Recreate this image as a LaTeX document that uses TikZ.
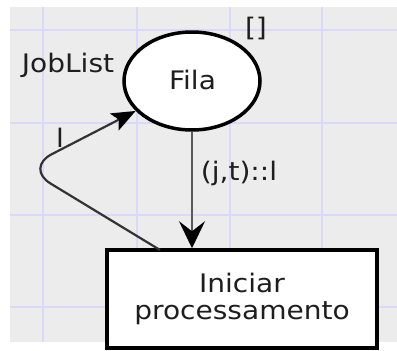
\documentclass[tikz,border=0pt]{standalone}
\usepackage{fontspec}
\setmainfont[FakeStretch=1.1]{DejaVu Sans}
\usetikzlibrary{arrows.meta,shapes.geometric}
\definecolor{bggray}{RGB}{236,236,236}
\definecolor{gridc}{RGB}{218,218,248}
\definecolor{txt}{RGB}{30,30,30}
\begin{document}
\begin{tikzpicture}[x=1pt,y=-1pt,
  lbl/.style={font=\fontsize{25.5}{30}\selectfont, text=txt, inner sep=0pt},
  place/.style={ellipse, draw=black, line width=3.5pt, fill=white, minimum width=136pt, minimum height=98pt, inner sep=0pt},
  trans/.style={rectangle, draw=black, line width=3.5pt, fill=white, minimum width=270pt, minimum height=98pt, inner sep=0pt, align=center},
  arc/.style={line width=2.5pt, draw=black!65},
  loop/.style={line width=2.2pt, draw=black!80}
]
\useasboundingbox (0,0) rectangle (397,351);
\fill[white] (0,0) rectangle (397,351);
\fill[bggray] (10,7) rectangle (397,342);
\foreach \gx in {43,137,230,322} \draw[gridc, line width=2pt] (\gx,7) -- (\gx,342);
\foreach \gy in {30,123,215,307} \draw[gridc, line width=2pt] (10,\gy) -- (397,\gy);

\node[place] (fila) at (192,81) {};
\node[lbl] (filatxt) at (192.5,80) {Fila};
\node[trans] (ini) at (242,299) {};
\node[lbl, align=center] (initxt) at (242,299) {Iniciar\\[-3pt]processamento};

\coordinate (lstart) at (160,250);
\coordinate (lc) at (25,168);

\draw[arc, -{Stealth[length=27pt,width=26pt,inset=10pt,black]}] (fila.south) -- (fila.south |- ini.north);
\draw[loop, rounded corners=30pt, -{Stealth[length=24pt,width=19pt,inset=5pt,black]}] (lstart) -- (lc) -- (fila.208);

\node[lbl] (joblist) at (68,65) {JobList};
\node[lbl] (init) at (256,28) {[]};
\node[lbl] (lbll) at (60,138) {l};
\node[lbl] (lblin) at (239,173) {(j,t)::l};
\end{tikzpicture}
\end{document}
